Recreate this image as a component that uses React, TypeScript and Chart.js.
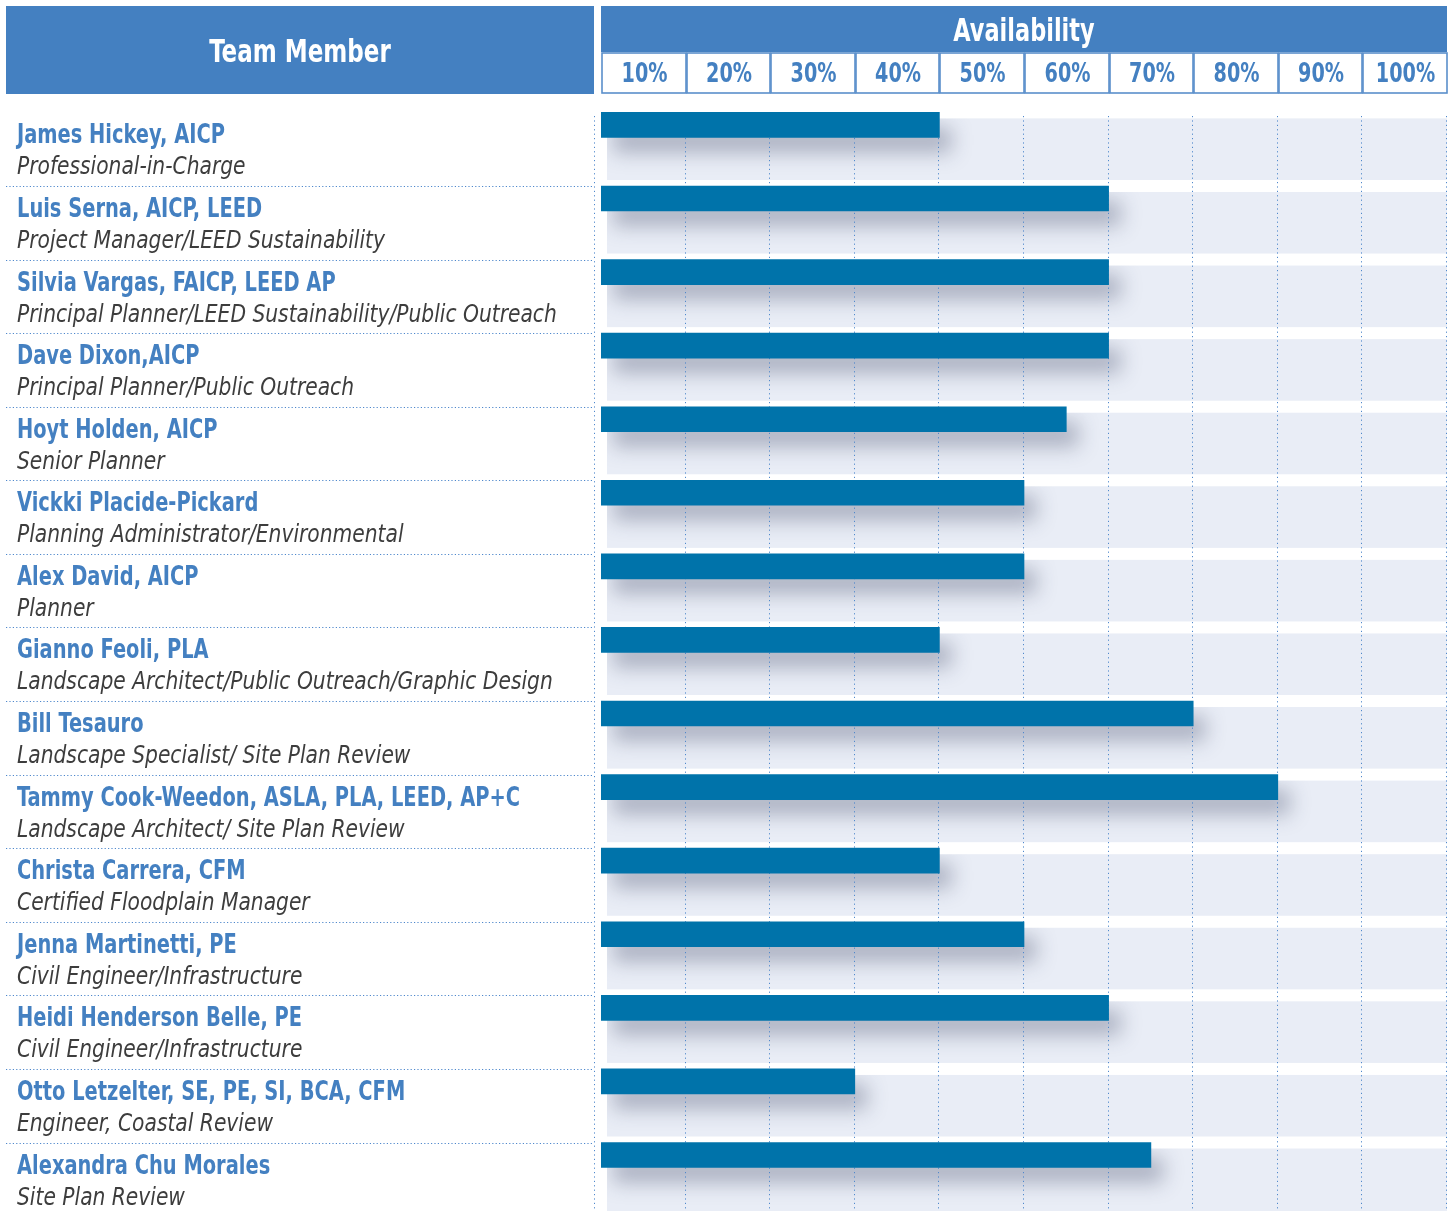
import React, { useEffect, useRef } from 'react';
import { Chart, registerables } from 'chart.js';

Chart.register(...registerables);

const names = [
  'James Hickey, AICP',
  'Luis Serna, AICP, LEED',
  'Silvia Vargas, FAICP, LEED AP',
  'Dave Dixon,AICP',
  'Hoyt Holden, AICP',
  'Vickki Placide-Pickard',
  'Alex David, AICP',
  'Gianno Feoli, PLA',
  'Bill Tesauro',
  'Tammy Cook-Weedon, ASLA, PLA, LEED, AP+C',
  'Christa Carrera, CFM',
  'Jenna Martinetti, PE',
  'Heidi Henderson Belle, PE',
  'Otto Letzelter, SE, PE, SI, BCA, CFM',
  'Alexandra Chu Morales',
];

const roles = [
  'Professional-in-Charge',
  'Project Manager/LEED Sustainability',
  'Principal Planner/LEED Sustainability/Public Outreach',
  'Principal Planner/Public Outreach',
  'Senior Planner',
  'Planning Administrator/Environmental',
  'Planner',
  'Landscape Architect/Public Outreach/Graphic Design',
  'Landscape Specialist/ Site Plan Review',
  'Landscape Architect/ Site Plan Review',
  'Certified Floodplain Manager',
  'Civil Engineer/Infrastructure',
  'Civil Engineer/Infrastructure',
  'Engineer, Coastal Review',
  'Site Plan Review',
];

const availability = [40, 60, 60, 60, 55, 50, 50, 40, 70, 80, 40, 50, 60, 30, 65];

const tickValues = [10, 20, 30, 40, 50, 60, 70, 80, 90, 100];
const tickLabels = ['10%', '20%', '30%', '40%', '50%', '60%', '70%', '80%', '90%', '100%'];

const headerLeft = 'Team Member';
const headerRight = 'Availability';

const W = 1452;
const H = 1211;
const BLUE = '#4480C1';
const BAR = '#0073AA';
const BAND = '#E9EDF6';
const DOT = '#4F88CC';
const FONT = '"DejaVu Sans Condensed", "DejaVu Sans", sans-serif';
const BAR_T = 25;

function drawText(
  ctx: CanvasRenderingContext2D,
  text: string,
  x: number,
  y: number,
  font: string,
  color: string,
  sx: number,
  align: CanvasTextAlign
) {
  ctx.save();
  ctx.translate(x, y);
  ctx.scale(sx, 1);
  ctx.font = font;
  ctx.fillStyle = color;
  ctx.textAlign = align;
  ctx.textBaseline = 'alphabetic';
  ctx.fillText(text, 0, 0);
  ctx.restore();
}

const decorPlugin = {
  id: 'decor',
  beforeDatasetsDraw(chart: any) {
    const ctx: CanvasRenderingContext2D = chart.ctx;
    const xs = chart.scales.x;
    const ys = chart.scales.y;
    const x0 = xs.getPixelForValue(0);
    const x100 = xs.getPixelForValue(100);
    const tops = names.map((_, i) => ys.getPixelForValue(i) - BAR_T / 2);

    ctx.save();
    // ---- headers
    ctx.fillStyle = BLUE;
    ctx.fillRect(6, 6, 588, 88);
    ctx.fillRect(x0, 6, x100 - x0, 46);
    ctx.fillStyle = '#FFFFFF';
    ctx.fillRect(x0, 52, x100 - x0, 42);

    drawText(ctx, headerLeft, 300, 62, `bold 32px ${FONT}`, '#FFFFFF', 0.8, 'center');
    drawText(ctx, headerRight, (x0 + x100) / 2, 41, `bold 32px ${FONT}`, '#FFFFFF', 0.78, 'center');

    // tick cells
    ctx.strokeStyle = '#5A8FCB';
    ctx.lineWidth = 1.6;
    tickValues.forEach((v, i) => {
      const a = Math.round(xs.getPixelForValue(v - 10));
      const b = Math.round(xs.getPixelForValue(v));
      ctx.strokeRect(a + 1, 53, b - a - 1, 40);
      drawText(ctx, tickLabels[i], (a + b) / 2 + 1, 82, `bold 26px ${FONT}`, BLUE, 0.82, 'center');
    });

    // ---- left panel text & separators
    names.forEach((n, i) => {
      const t = tops[i];
      drawText(ctx, n, 17, t + 31, `bold 27px ${FONT}`, BLUE, 0.8, 'left');
      drawText(ctx, roles[i], 17, t + 62, `italic 25px ${FONT}`, '#3D3D3D', 0.9, 'left');
    });

    ctx.strokeStyle = DOT;
    ctx.lineWidth = 1;
    ctx.setLineDash([1.2, 2.2]);
    for (let i = 1; i < names.length; i++) {
      const yy = Math.round(tops[i]) + 0.5;
      ctx.beginPath();
      ctx.moveTo(6, yy);
      ctx.lineTo(594, yy);
      ctx.stroke();
    }
    ctx.setLineDash([1.2, 3.2]);
    ctx.beginPath();
    ctx.moveTo(594.5, 116);
    ctx.lineTo(594.5, H);
    ctx.stroke();
    ctx.setLineDash([]);

    // ---- bands
    const bandL = x0 + 6;
    const bands = names.map((_, i) => {
      const top = tops[i] + 6;
      const bottom = i < names.length - 1 ? tops[i + 1] - 6 : H;
      return [top, bottom];
    });
    ctx.fillStyle = BAND;
    bands.forEach(([t, b]) => ctx.fillRect(bandL, t, x100 - bandL, b - t));

    // ---- shadows
    const meta = chart.getDatasetMeta(0);
    meta.data.forEach((el: any, i: number) => {
      const p = el.getProps(['x', 'y', 'base', 'height'], true);
      const [bt, bb] = bands[i];
      ctx.save();
      ctx.beginPath();
      ctx.rect(bandL, bt, x100 - bandL, bb - bt);
      ctx.clip();
      const off = 5000;
      ctx.shadowColor = 'rgba(50,60,90,0.34)';
      ctx.shadowBlur = 20;
      ctx.shadowOffsetX = off + 12;
      ctx.shadowOffsetY = 15;
      ctx.fillStyle = '#000';
      ctx.fillRect(p.base - off, p.y - p.height / 2, p.x - p.base, p.height);
      ctx.restore();
    });

    // ---- vertical grid
    ctx.strokeStyle = DOT;
    ctx.lineWidth = 1;
    ctx.setLineDash([1.2, 3.2]);
    tickValues.forEach((v) => {
      const px = Math.round(xs.getPixelForValue(v)) - 0.5;
      ctx.beginPath();
      ctx.moveTo(px, 116);
      ctx.lineTo(px, H);
      ctx.stroke();
    });
    ctx.setLineDash([]);
    ctx.restore();
  },
};

export default function App() {
  const ref = useRef<HTMLCanvasElement | null>(null);

  useEffect(() => {
    document.body.style.margin = '0';
    document.body.style.overflow = 'hidden';
    const canvas = ref.current;
    if (!canvas) return;
    const chart = new Chart(canvas, {
      type: 'bar',
      data: {
        labels: names,
        datasets: [
          {
            data: availability,
            backgroundColor: BAR,
            borderWidth: 0,
            barThickness: BAR_T,
          },
        ],
      },
      options: {
        indexAxis: 'y',
        animation: false,
        responsive: false,
        devicePixelRatio: 1,
        layout: { padding: { left: 601, right: 5, top: 88.1, bottom: 19.2 } },
        plugins: { legend: { display: false }, tooltip: { enabled: false } },
        scales: {
          x: { type: 'linear', min: 0, max: 100, display: false },
          y: { type: 'category', display: false, offset: true },
        },
      },
      plugins: [decorPlugin],
    });
    return () => chart.destroy();
  }, []);

  return (
    <canvas
      ref={ref}
      width={W}
      height={H}
      style={{ display: 'block', position: 'absolute', left: 0, top: 0, width: W, height: H }}
    />
  );
}
